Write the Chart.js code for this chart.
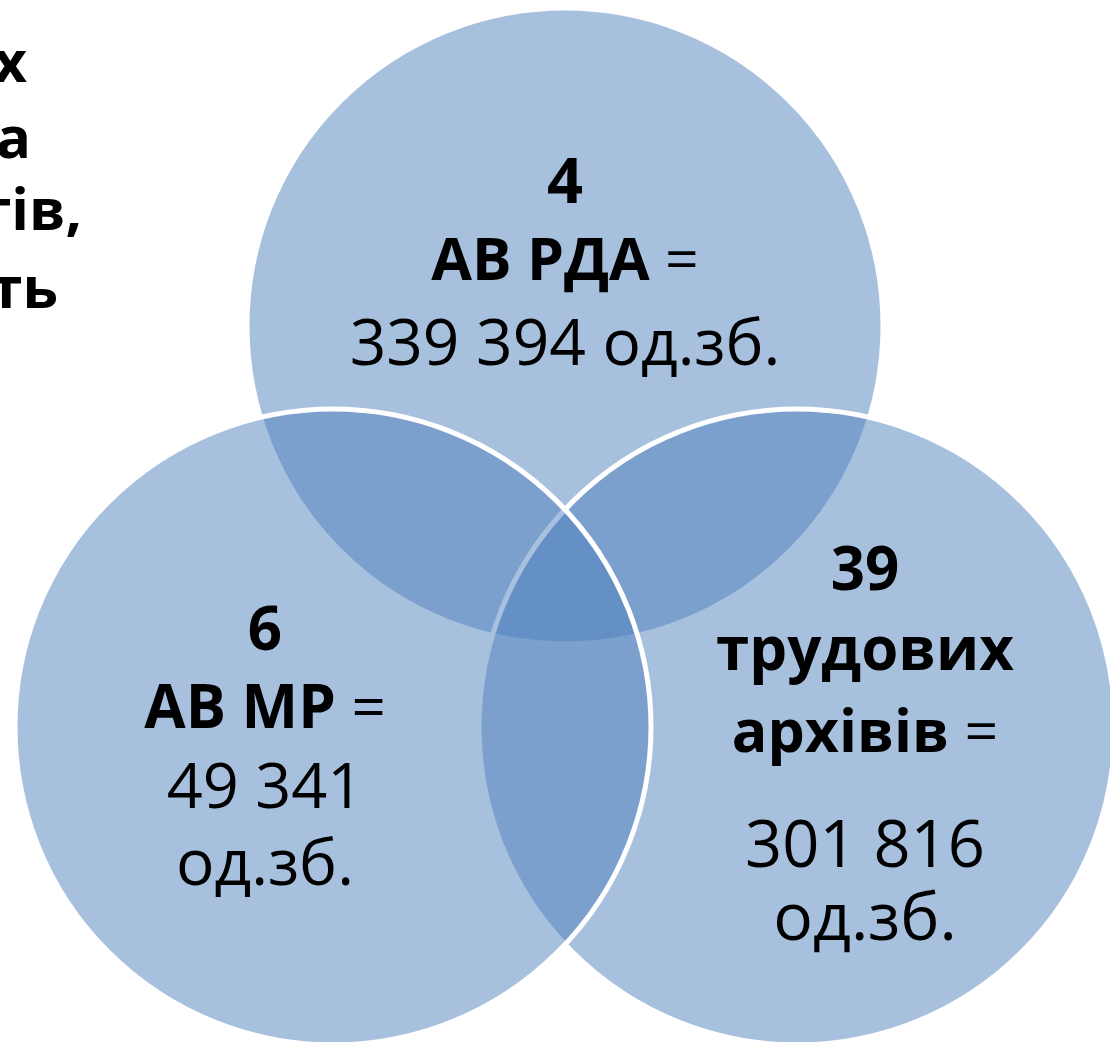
<!DOCTYPE html>
<html><head><meta charset="utf-8">
<script src="https://cdn.jsdelivr.net/npm/chart.js@4.4.0/dist/chart.umd.min.js"></script>
<style>html,body{margin:0;padding:0;background:#fff;overflow:hidden}#wrap{width:1110px;height:1042px;position:relative}canvas{display:block}</style>
</head><body><div id="wrap"><canvas id="c" width="1110" height="1042"></canvas></div>
<script>
// ---- data ----
const groupNames = ['АВ РДА', 'трудових архівів', 'АВ МР'];
const groupCounts = [4, 39, 6];
const groupVolumes = ['339 394', '301 816', '49 341'];
const unitLabel = 'од.зб.';
const centerX = [565, 797, 333];
const centerY = [326, 727, 727];
const radii = [318, 318, 318];
const titleFragments = ['х', 'та', 'тів,', 'ть'];

// ---- layout (styling only) ----
const FONT = '"Open Sans", "Noto Sans", sans-serif';
const textLayout = [
  { dx: 0,   splitName: false, splitValue: false,
    dy: [-123, -46, 39], size: [63, 59, 64] },
  { dx: 68,  splitName: true,  splitValue: true,
    dy: [-137, -57, 25, 140, 213], size: [60, 60, 59, 65, 66] },
  { dx: -68, splitName: false, splitValue: true,
    dy: [-77, 1, 81, 158], size: [60, 60, 63, 64] }
];
const titleLayout = { right: [27, 31, 82, 58], base: [82, 158, 230, 308], size: 58 };

function buildLines(i) {
  const L = textLayout[i];
  const lines = [[{ t: String(groupCounts[i]), b: true }]];
  const nameWords = L.splitName ? groupNames[i].split(' ') : [groupNames[i]];
  nameWords.forEach((w, k) => {
    const parts = [{ t: w, b: true }];
    if (k === nameWords.length - 1) parts.push({ t: ' =', b: false });
    lines.push(parts);
  });
  if (L.splitValue) {
    lines.push([{ t: groupVolumes[i], b: false }]);
    lines.push([{ t: unitLabel, b: false }]);
  } else {
    lines.push([{ t: groupVolumes[i] + ' ' + unitLabel, b: false }]);
  }
  return lines;
}

function fontFor(p, size) { return (p.b ? '700 ' : '400 ') + size + 'px ' + FONT; }

function drawLine(ctx, parts, cx, y, size) {
  let total = 0;
  parts.forEach(p => { ctx.font = fontFor(p, size); p.w = ctx.measureText(p.t).width; total += p.w; });
  let x = cx - total / 2;
  parts.forEach(p => { ctx.font = fontFor(p, size); ctx.fillText(p.t, x, y); x += p.w; });
}

const labelPlugin = {
  id: 'vennLabels',
  afterDatasetsDraw(chart) {
    const ctx = chart.ctx, xs = chart.scales.x, ys = chart.scales.y;
    ctx.save();
    ctx.fillStyle = '#000';
    ctx.textBaseline = 'alphabetic';
    ctx.textAlign = 'left';
    for (let i = 0; i < groupNames.length; i++) {
      const cx = xs.getPixelForValue(centerX[i]) + textLayout[i].dx;
      const cy = ys.getPixelForValue(centerY[i]);
      buildLines(i).forEach((parts, k) => {
        drawLine(ctx, parts, cx, cy + textLayout[i].dy[k], textLayout[i].size[k]);
      });
    }
    ctx.textAlign = 'right';
    ctx.font = '700 ' + titleLayout.size + 'px ' + FONT;
    titleFragments.forEach((t, k) => ctx.fillText(t, titleLayout.right[k], titleLayout.base[k]));
    ctx.restore();
  }
};

new Chart(document.getElementById('c').getContext('2d'), {
  type: 'bubble',
  data: {
    datasets: [{
      data: centerX.map((x, i) => ({ x: x, y: centerY[i], r: radii[i] })),
      backgroundColor: 'rgba(79,129,189,0.5)',
      borderColor: '#ffffff',
      borderWidth: 5,
      hoverBorderWidth: 5,
      hoverRadius: 0,
      clip: false
    }]
  },
  options: {
    responsive: false,
    animation: false,
    events: [],
    layout: { padding: 0, autoPadding: false },
    plugins: { legend: { display: false }, tooltip: { enabled: false } },
    scales: {
      x: { type: 'linear', min: 0, max: 1110, display: false },
      y: { type: 'linear', min: 0, max: 1042, reverse: true, display: false }
    }
  },
  plugins: [labelPlugin]
});
</script>
</body></html>
